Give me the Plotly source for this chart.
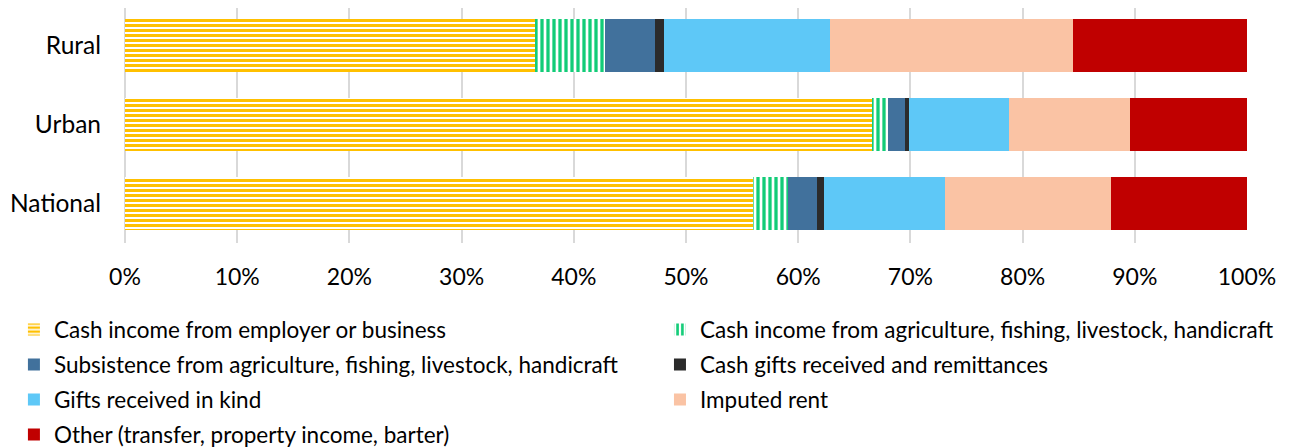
import plotly.graph_objects as go

categories = ["Rural", "Urban", "National"]

series_names = [
    "Cash income from employer or business",
    "Cash income from agriculture, fishing, livestock, handicraft",
    "Subsistence from agriculture, fishing, livestock, handicraft",
    "Cash gifts received and remittances",
    "Gifts received in kind",
    "Imputed rent",
    "Other (transfer, property income, barter)",
]

cash_employer = [0.365, 0.6655, 0.560]
cash_agri = [0.0625, 0.0145, 0.031]
subsistence = [0.0445, 0.015, 0.0255]
cash_gifts = [0.008, 0.004, 0.0065]
gifts_kind = [0.148, 0.089, 0.108]
imputed_rent = [0.217, 0.108, 0.1475]
other = [0.155, 0.104, 0.1215]

series_values = [cash_employer, cash_agri, subsistence, cash_gifts,
                 gifts_kind, imputed_rent, other]

colors = ["#FFC000", "#12CC78", "#41719C", "#2B2B2B", "#5EC8F7", "#FAC3A4", "#C00000"]
patterns = [
    dict(shape="-", fillmode="replace", bgcolor="white", fgcolor="#FFC000", size=5, solidity=0.6),
    dict(shape="|", fillmode="replace", bgcolor="white", fgcolor="#12CC78", size=6, solidity=0.55),
    None, None, None, None, None,
]
legend_ids = ["legend", "legend2", "legend", "legend2", "legend", "legend2", "legend"]

fig = go.Figure()
for i, (name, vals) in enumerate(zip(series_names, series_values)):
    marker = dict(color=colors[i], line=dict(width=0))
    if patterns[i] is not None:
        marker["pattern"] = patterns[i]
    fig.add_trace(go.Bar(
        y=categories, x=vals, name=name, orientation="h",
        marker=marker, legend=legend_ids[i], legendgroup="g%d" % i,
        hoverinfo="x+name",
    ))

FONT = "Lato, 'Open Sans', sans-serif"
LEG_Y = -0.2787
LEG_SIZE = 22.5
fig.update_layout(
    template="none",
    barmode="stack",
    bargap=0.329,
    width=1283, height=440,
    margin=dict(l=117, r=44, t=0, b=205, autoexpand=False),
    paper_bgcolor="white",
    plot_bgcolor="white",
    font=dict(family=FONT, size=22, color="#000000"),
    xaxis=dict(
        range=[0, 1], tickformat=".0%", dtick=0.1,
        showgrid=True, gridcolor="#D9D9D9", gridwidth=1.5,
        zeroline=True, zerolinecolor="#D9D9D9", zerolinewidth=1.5,
        showline=False, ticks="", tickfont=dict(size=23),
        ticklabelstandoff=18, automargin=False,
    ),
    yaxis=dict(
        range=[2.5, -0.475], showgrid=False, zeroline=False,
        showline=False, ticks="", tickfont=dict(size=24.5),
        ticklabelstandoff=23, automargin=False,
    ),
    legend=dict(
        orientation="v", x=-0.099, xanchor="left", y=LEG_Y, yanchor="top",
        font=dict(family=FONT, size=LEG_SIZE), tracegroupgap=2.75,
        bgcolor="rgba(0,0,0,0)", itemclick=False,
    ),
    legend2=dict(
        orientation="v", x=0.4768, xanchor="left", y=LEG_Y, yanchor="top",
        font=dict(family=FONT, size=LEG_SIZE), tracegroupgap=2.75,
        bgcolor="rgba(0,0,0,0)", itemclick=False,
    ),
)

fig.write_html("out.html")
